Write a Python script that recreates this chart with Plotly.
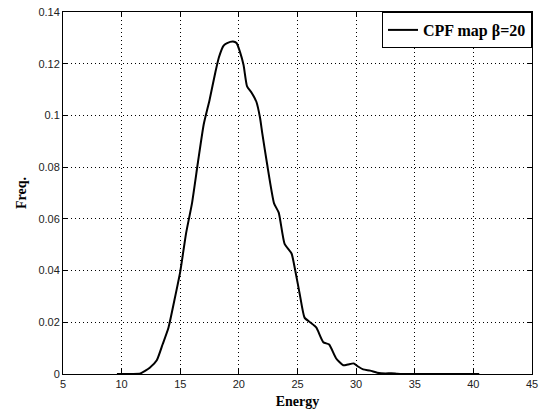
import plotly.graph_objects as go

energy = [9.6, 10, 10.5, 11, 11.6, 12, 12.4, 13, 13.5, 14, 14.5, 15, 15.5, 16, 16.5, 17,
          17.5, 18, 18.3, 18.7, 19, 19.5, 19.8, 20.1, 20.4, 20.7, 21.1, 21.5, 21.8, 22.0,
          22.4, 23.0, 23.4, 23.9, 24.5, 24.8, 25.2, 25.6, 26.1, 26.6, 27.2, 27.7, 28.3,
          28.9, 29.3, 29.8, 30.2, 30.6, 31.2, 31.8, 32.5, 33, 33.5, 34, 35, 36, 37, 38,
          39, 40, 40.5]
freq = [0, 0, 0, 0, 0.0002, 0.0012, 0.0024, 0.0053, 0.0115, 0.018, 0.0285, 0.0396,
        0.0545, 0.066, 0.0816, 0.0965, 0.106, 0.1168, 0.1225, 0.127, 0.128, 0.1286,
        0.128, 0.1245, 0.1195, 0.1112, 0.1087, 0.1052, 0.0992, 0.093, 0.0814, 0.066,
        0.0624, 0.0503, 0.0465, 0.0402, 0.0307, 0.0218, 0.0199, 0.018, 0.0123, 0.0114,
        0.006, 0.0034, 0.0037, 0.0041, 0.0028, 0.0018, 0.0013, 0.0005, 0.0002, 0.0003,
        0.0001, 0, 0, 0, 0, 0, 0, 0, 0]

x_ticks = [5, 10, 15, 20, 25, 30, 35, 40, 45]
y_ticks = [0, 0.02, 0.04, 0.06, 0.08, 0.1, 0.12, 0.14]
y_tick_labels = ["0", "0.02", "0.04", "0.06", "0.08", "0.1", "0.12", "0.14"]

fig = go.Figure()
fig.add_trace(go.Scatter(x=energy, y=freq, mode="lines", name="<b>CPF map β=20</b>",
                         line=dict(color="black", width=2, shape="spline", smoothing=0.5)))

axis_common = dict(
    showline=True, linecolor="black", linewidth=1, mirror="allticks",
    ticks="inside", ticklen=5, tickcolor="black",
    showgrid=True, gridcolor="black", griddash="1px,3px", gridwidth=1,
    zeroline=False, ticklabeloverflow="allow",
    tickfont=dict(family="Liberation Sans, Arial", size=11, color="#222"),
)

fig.update_layout(
    width=549, height=417,
    margin=dict(l=63, r=17, t=6, b=43),
    paper_bgcolor="white", plot_bgcolor="white",
    xaxis=dict(range=[5, 45], tickvals=x_ticks,
               title=dict(text="<b>Energy</b>", standoff=6,
                          font=dict(family="Liberation Serif, Times New Roman", size=14, color="black")),
               **axis_common),
    yaxis=dict(range=[0, 0.14], tickvals=y_ticks, ticktext=y_tick_labels,
               title=dict(text="<b>Freq.</b>", standoff=8,
                          font=dict(family="Liberation Serif, Times New Roman", size=14, color="black")),
               **axis_common),
    showlegend=True,
    legend=dict(x=1, y=1, xanchor="right", yanchor="top",
                bgcolor="white", bordercolor="black", borderwidth=1,
                font=dict(family="Liberation Serif, Times New Roman", size=16, color="black"),
                tracegroupgap=0),
)

fig.write_html("out.html", config={"displayModeBar": False},
               post_script="document.body.style.margin='0';")
